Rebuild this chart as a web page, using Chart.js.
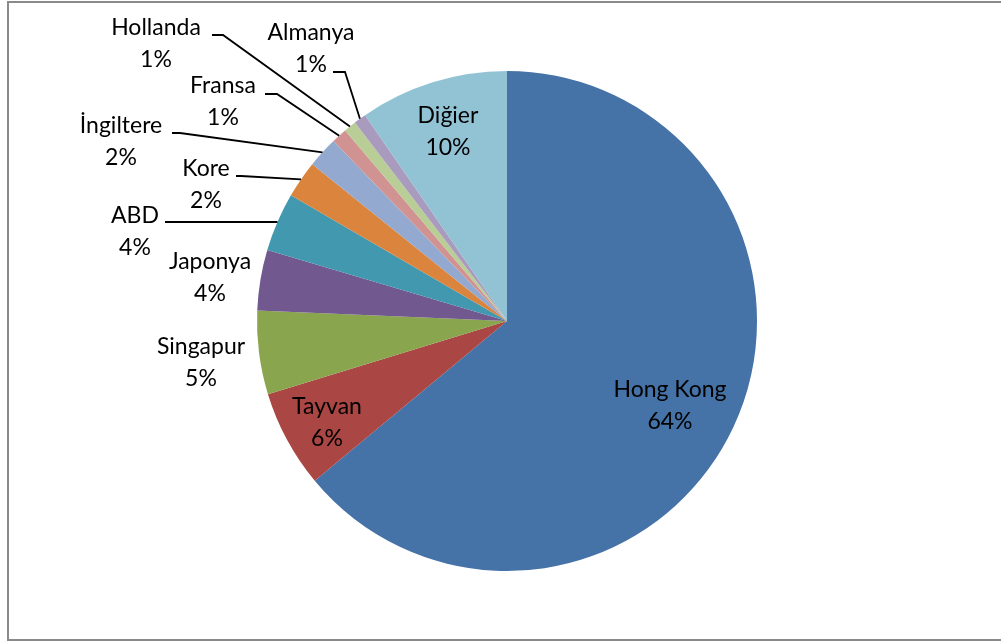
<!DOCTYPE html>
<html>
<head>
<meta charset="utf-8">
<script src="https://cdn.jsdelivr.net/npm/chart.js@4.4.0/dist/chart.umd.min.js"></script>
<style>
  html, body { margin: 0; padding: 0; background: #fff; }
  #wrap { position: relative; width: 1001px; height: 641px; }
  #frame {
    position: absolute; left: 7px; top: 1px; width: 1000px; height: 636px;
    border-left: 2px solid #8a8a8a; border-top: 2px solid #8a8a8a; border-bottom: 2px solid #8a8a8a;
  }
  canvas { position: absolute; left: 0; top: 0; }
</style>
</head>
<body>
<div id="wrap">
  <div id="frame"></div>
  <canvas id="pieCanvas" width="1001" height="641"></canvas>
</div>
<script>
var COUNTRIES = ['Hong Kong', 'Tayvan', 'Singapur', 'Japonya', 'ABD', 'Kore', 'İngiltere', 'Fransa', 'Hollanda', 'Almanya', 'Diğier'];
var SHARES = [63.9, 6.3, 5.4, 3.9, 3.8, 2.4, 2.0, 1.0, 0.8, 0.8, 9.6];
var COLORS = ['#4572A7', '#AA4643', '#89A54E', '#71588F', '#4198AF', '#DB843D', '#93A9CF', '#D19392', '#B9CD96', '#A99BBD', '#92C3D5'];

// where each label sits (centre of first text line), and for the outside ones
// where the leader line starts and bends before running to the slice edge
var LABEL_POS = [
  { x: 670, y: 390 },
  { x: 327, y: 407 },
  { x: 201, y: 347 },
  { x: 210, y: 262 },
  { x: 135, y: 216, line: [[165, 222], [172, 222]] },
  { x: 206, y: 169, line: [[236, 176], [241, 176]] },
  { x: 121, y: 126, line: [[172, 133], [180, 133]] },
  { x: 223, y: 86, line: [[265, 94], [277, 94]] },
  { x: 156, y: 28, line: [[212, 35], [223, 35]] },
  { x: 311, y: 33, line: [[333, 72], [345, 72]] },
  { x: 448, y: 116 }
];

var labelPlugin = {
  id: 'pieLabels',
  afterDatasetsDraw: function(chart) {
    var ctx = chart.ctx;
    var arcs = chart.getDatasetMeta(0).data;
    var total = SHARES.reduce(function(a, b) { return a + b; }, 0);
    ctx.save();
    ctx.strokeStyle = '#000';
    ctx.lineWidth = 1.8;
    arcs.forEach(function(arc, i) {
      var p = LABEL_POS[i];
      if (p.line) {
        var mid = (arc.startAngle + arc.endAngle) / 2;
        var ex = arc.x + Math.cos(mid) * arc.outerRadius;
        var ey = arc.y + Math.sin(mid) * arc.outerRadius;
        ctx.beginPath();
        ctx.moveTo(p.line[0][0], p.line[0][1]);
        ctx.lineTo(p.line[1][0], p.line[1][1]);
        ctx.lineTo(ex, ey);
        ctx.stroke();
      }
    });
    ctx.fillStyle = '#000';
    ctx.font = '23px Lato';
    ctx.textAlign = 'center';
    ctx.textBaseline = 'middle';
    arcs.forEach(function(arc, i) {
      var p = LABEL_POS[i];
      var pct = Math.round(SHARES[i] / total * 100) + '%';
      ctx.fillText(COUNTRIES[i], p.x, p.y);
      ctx.fillText(pct, p.x, p.y + 32);
    });
    ctx.restore();
  }
};

var config = {
  type: 'pie',
  data: {
    labels: COUNTRIES,
    datasets: [{
      data: SHARES,
      backgroundColor: COLORS,
      borderWidth: 0
    }]
  },
  options: {
    responsive: false,
    animation: false,
    layout: { padding: { left: 257, right: 244, top: 71, bottom: 70 } },
    plugins: {
      legend: { display: false },
      tooltip: { enabled: false }
    }
  },
  plugins: [labelPlugin]
};

window.onload = function() {
  var ctx = document.getElementById('pieCanvas').getContext('2d');
  window.myPie = new Chart(ctx, config);
};
</script>
</body>
</html>
